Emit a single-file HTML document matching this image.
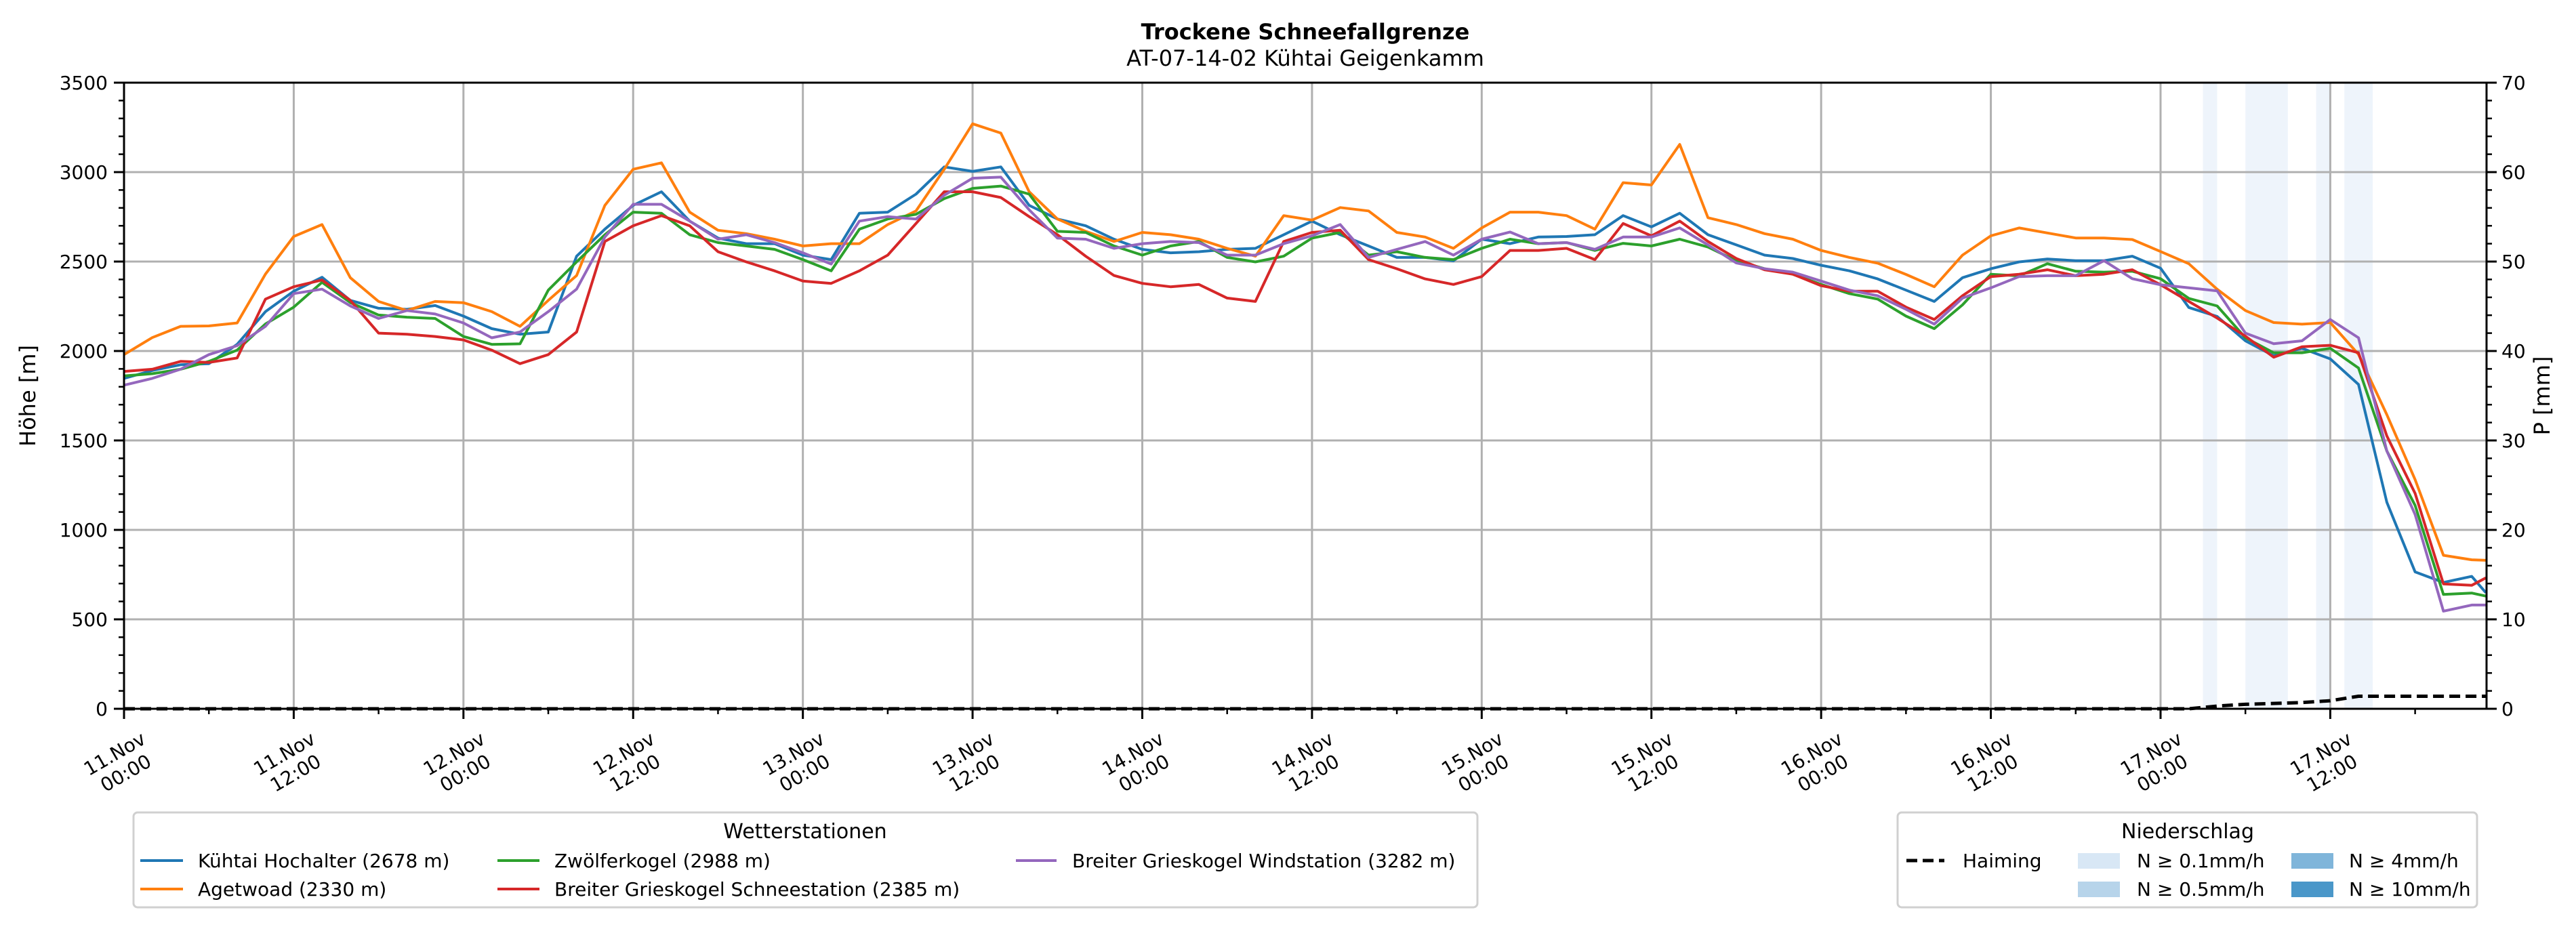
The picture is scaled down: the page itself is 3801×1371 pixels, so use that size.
<!DOCTYPE html>
<html><head><meta charset="utf-8">
<style>
html,body{margin:0;padding:0;background:#fff;}
svg{display:block;font-family:"DejaVu Sans","Liberation Sans",sans-serif;}
</style></head>
<body>
<svg id="chart" xmlns="http://www.w3.org/2000/svg" width="3801" height="1371" viewBox="0 0 3801 1371">
<rect x="0" y="0" width="3801" height="1371" fill="#fff"/>
<text x="1926" y="58" text-anchor="middle" font-size="32" font-weight="bold">Trockene Schneefallgrenze</text>
<text x="1926" y="97" text-anchor="middle" font-size="32">AT-07-14-02 Kühtai Geigenkamm</text>
<text transform="translate(52,584) rotate(-90)" text-anchor="middle" font-size="32">Höhe [m]</text>
<text transform="translate(3762,584) rotate(-90)" text-anchor="middle" font-size="32">P [mm]</text>
<g id="bands"></g>
<g id="grid"></g>
<g id="series"></g>
<g id="axes"></g>

<g>
<rect x="197" y="1199" width="1983" height="140" rx="6" fill="#fff" stroke="#d0d0d0" stroke-width="3"/>
<text x="1188" y="1237" text-anchor="middle" font-size="30">Wetterstationen</text>
<line x1="207" y1="1270" x2="270" y2="1270" stroke="#1f77b4" stroke-width="4"/>
<text x="292" y="1280" font-size="28">Kühtai Hochalter (2678 m)</text>
<line x1="207" y1="1312" x2="270" y2="1312" stroke="#ff7f0e" stroke-width="4"/>
<text x="292" y="1322" font-size="28">Agetwoad (2330 m)</text>
<line x1="734" y1="1270" x2="796" y2="1270" stroke="#2ca02c" stroke-width="4"/>
<text x="818" y="1280" font-size="28">Zwölferkogel (2988 m)</text>
<line x1="734" y1="1312" x2="796" y2="1312" stroke="#d62728" stroke-width="4"/>
<text x="818" y="1322" font-size="28">Breiter Grieskogel Schneestation (2385 m)</text>
<line x1="1499" y1="1270" x2="1559" y2="1270" stroke="#9467bd" stroke-width="4"/>
<text x="1582" y="1280" font-size="28">Breiter Grieskogel Windstation (3282 m)</text>
</g>

<g>
<rect x="2800" y="1199" width="855" height="140" rx="6" fill="#fff" stroke="#d0d0d0" stroke-width="3"/>
<text x="3228" y="1237" text-anchor="middle" font-size="30">Niederschlag</text>
<line x1="2813" y1="1270" x2="2869" y2="1270" stroke="#000" stroke-width="5" stroke-dasharray="16,8"/>
<text x="2896" y="1280" font-size="28">Haiming</text>
<rect x="3066" y="1259" width="62" height="23" fill="#d8e7f5"/>
<text x="3153" y="1280" font-size="28">N ≥ 0.1mm/h</text>
<rect x="3066" y="1301" width="62" height="23" fill="#b7d4ea"/>
<text x="3153" y="1322" font-size="28">N ≥ 0.5mm/h</text>
<rect x="3381" y="1259" width="62" height="23" fill="#7fb5da"/>
<text x="3466" y="1280" font-size="28">N ≥ 4mm/h</text>
<rect x="3381" y="1301" width="62" height="23" fill="#4a97c9"/>
<text x="3466" y="1322" font-size="28">N ≥ 10mm/h</text>
</g>
</svg>
<script>
const hours=[0,2,4,6,8,10,12,14,16,18,20,22,24,26,28,30,32,34,36,38,40,42,44,46,48,50,52,54,56,58,60,62,64,66,68,70,72,74,76,78,80,82,84,86,88,90,92,94,96,98,100,102,104,106,108,110,112,114,116,118,120,122,124,126,128,130,132,134,136,138,140,142,144,146,148,150,152,154,156,158,160,162,164,166,167];
const kuehtai=[1847,1891,1923,1929,2037,2220,2334,2412,2283,2239,
2233,2254,2195,2125,2094,2106,2530,2681,2814,2890,
2726,2631,2600,2600,2536,2511,2770,2776,2877,3029,
3004,3029,2814,2738,2700,2625,2568,2549,2555,2568,
2574,2650,2726,2650,2587,2523,2523,2504,2625,2600,
2637,2640,2650,2757,2694,2770,2650,2593,2536,2517,
2479,2448,2403,2340,2277,2410,2460,2498,2514,2505,
2505,2530,2463,2243,2193,2057,1973,2015,1956,1813,
1154,765,706,740,649];
const agetwoad=[1980,2075,2138,2140,2157,2430,2640,2707,2410,2277,
2226,2277,2270,2220,2138,2283,2422,2814,3016,3052,
2776,2675,2656,2625,2587,2600,2600,2707,2783,3016,
3270,3218,2890,2738,2669,2612,2663,2650,2625,2574,
2530,2757,2732,2802,2783,2663,2637,2574,2688,2776,
2776,2757,2681,2941,2928,3155,2745,2707,2656,2625,
2562,2523,2491,2428,2359,2536,2644,2688,2660,2632,
2632,2623,2556,2488,2345,2226,2159,2150,2159,1981,
1644,1281,858,833,830];
const zwoelferkogel=[1861,1873,1898,1942,2005,2151,2245,2384,2271,2201,
2189,2182,2081,2037,2040,2340,2498,2650,2776,2770,
2650,2606,2587,2568,2511,2448,2681,2738,2764,2852,
2909,2922,2877,2669,2663,2587,2536,2587,2612,2523,
2498,2530,2631,2663,2536,2555,2523,2511,2574,2625,
2600,2606,2562,2602,2587,2625,2581,2505,2460,2429,
2372,2321,2290,2195,2125,2258,2429,2420,2488,2446,
2441,2446,2404,2294,2252,2074,1990,1990,2015,1905,
1441,1137,639,647,630];
const schneestation=[1886,1898,1942,1936,1961,2290,2359,2397,2283,2100,
2094,2081,2062,2005,1929,1980,2106,2612,2700,2757,
2700,2555,2498,2448,2391,2378,2448,2536,2713,2890,
2890,2858,2751,2650,2530,2422,2378,2359,2372,2296,
2277,2612,2663,2675,2511,2460,2403,2372,2416,2562,
2562,2574,2511,2713,2644,2726,2612,2517,2454,2429,
2365,2334,2334,2245,2176,2309,2416,2429,2454,2421,
2429,2454,2370,2277,2184,2083,1965,2024,2032,1990,
1525,1204,698,690,732];
const windstation=[1809,1847,1898,1980,2030,2138,2321,2346,2252,2182,
2226,2207,2157,2074,2106,2220,2346,2637,2820,2820,
2726,2625,2650,2606,2549,2486,2726,2751,2738,2871,
2966,2972,2789,2631,2625,2574,2600,2612,2606,2536,
2536,2600,2644,2707,2523,2568,2612,2536,2625,2665,
2600,2606,2568,2637,2637,2688,2593,2492,2460,2441,
2391,2340,2309,2233,2150,2296,2353,2416,2421,2421,
2505,2404,2370,2353,2336,2100,2041,2057,2176,2074,
1441,1086,546,580,580];
const haiming=[0,0,0,0,0,0,0,0,0,0,
0,0,0,0,0,0,0,0,0,0,
0,0,0,0,0,0,0,0,0,0,
0,0,0,0,0,0,0,0,0,0,
0,0,0,0,0,0,0,0,0,0,
0,0,0,0,0,0,0,0,0,0,
0,0,0,0,0,0,0,0,0,0,
0,0,0,0,0.3,0.5,0.6,0.7,0.9,1.4,
1.4,1.4,1.4,1.4,1.4];
const bandStart=[147,150,155,157];
const bandEnd=[148,153,156,159];
const yTicks=[0,500,1000,1500,2000,2500,3000,3500];
const y2Ticks=[0,10,20,30,40,50,60,70];
const xTickHours=[0,12,24,36,48,60,72,84,96,108,120,132,144,156];
const xTickDay=["11.Nov","11.Nov","12.Nov","12.Nov","13.Nov","13.Nov","14.Nov","14.Nov","15.Nov","15.Nov","16.Nov","16.Nov","17.Nov","17.Nov"];
const xTickTime=["00:00","12:00","00:00","12:00","00:00","12:00","00:00","12:00","00:00","12:00","00:00","12:00","00:00","12:00"];

const NS="http://www.w3.org/2000/svg";
const L=183,R=3669,T=122,B=1046,XMAX=167.05,YMAX=3500,PMAX=70;
const xs=h=>L+h*(R-L)/XMAX;
const ys=v=>B-v*(B-T)/YMAX;
const yp=v=>B-v*(B-T)/PMAX;
function mk(tag,attrs,parent){const e=document.createElementNS(NS,tag);for(const k in attrs)e.setAttribute(k,attrs[k]);parent.appendChild(e);return e;}
const gB=document.getElementById('bands'),gG=document.getElementById('grid'),gS=document.getElementById('series'),gA=document.getElementById('axes');

for(let i=0;i<bandStart.length;i++){
  const r=mk('rect',{x:xs(bandStart[i]),y:T,width:xs(bandEnd[i])-xs(bandStart[i]),height:B-T,fill:'#eef4fb'},gB);
  
  
}
yTicks.forEach(v=>{
  const l=mk('line',{x1:L,x2:R,y1:ys(v),y2:ys(v),stroke:'#b0b0b0','stroke-width':3},gG);
  
  
});
xTickHours.forEach(h=>{
  const l=mk('line',{x1:xs(h),x2:xs(h),y1:T,y2:B,stroke:'#b0b0b0','stroke-width':3},gG);
  
  
});
function line(vals,color,scale,dash){
  let d='';
  for(let i=0;i<hours.length&&i<vals.length;i++){d+=(i?'L':'M')+xs(hours[i]).toFixed(1)+','+scale(vals[i]).toFixed(1);}
  const p=mk('path',{d:d,fill:'none',stroke:color,'stroke-width':dash?5:4,'stroke-linejoin':'round'},gS);
  if(dash)p.setAttribute('stroke-dasharray',dash);
  return p;
}
let p;
p=line(kuehtai,'#1f77b4',ys);


p=line(agetwoad,'#ff7f0e',ys);


p=line(zwoelferkogel,'#2ca02c',ys);


p=line(schneestation,'#d62728',ys);


p=line(windstation,'#9467bd',ys);


p=line(haiming,'#000',yp,'16,8');



const fr=mk('rect',{x:L,y:T,width:R-L,height:B-T,fill:'none',stroke:'#000','stroke-width':3},gA);


for(let v=0;v<=YMAX;v+=100){
  const major=v%500===0;
  const t=mk('line',{x1:L,x2:L-(major?15:8),y1:ys(v),y2:ys(v),stroke:'#000','stroke-width':major?3:2.5},gA);
  
  
}
yTicks.forEach(v=>{
  const t=mk('text',{x:L-24,y:ys(v)+10,'text-anchor':'end','font-size':28},gA);
  t.textContent=v;
  
  
});
for(let v=0;v<=PMAX;v+=2){
  const major=v%10===0;
  const t=mk('line',{x1:R,x2:R+(major?15:8),y1:yp(v),y2:yp(v),stroke:'#000','stroke-width':major?3:2.5},gA);
  
  
}
y2Ticks.forEach(v=>{
  const t=mk('text',{x:R+22,y:yp(v)+10,'text-anchor':'start','font-size':28},gA);
  t.textContent=v;
  
  
});
for(let h=0;h<=XMAX;h+=6){
  const major=h%12===0;
  const t=mk('line',{x1:xs(h),x2:xs(h),y1:B,y2:B+(major?15:8),stroke:'#000','stroke-width':major?3:2.5},gA);
  
  
}
xTickHours.forEach((h,i)=>{
  const g=mk('g',{transform:'translate('+(xs(h)-6)+',1126) rotate(-30)'},gA);
  
  
  const a=mk('text',{x:0,y:-6,'text-anchor':'middle','font-size':28},g);
  a.textContent=xTickDay[i];
  
  
  const b=mk('text',{x:0,y:27,'text-anchor':'middle','font-size':28},g);
  b.textContent=xTickTime[i];
  
  
});
</script>
</body></html>
